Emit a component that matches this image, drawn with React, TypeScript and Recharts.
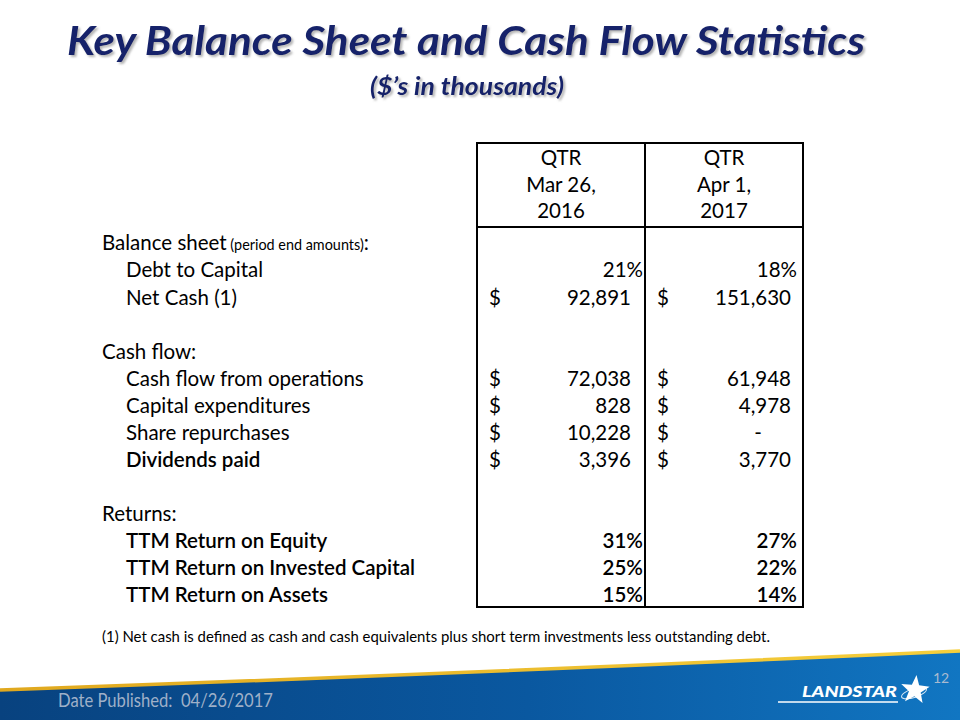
import React from 'react';
import { ComposedChart, Bar, XAxis, YAxis, LabelList, Customized } from 'recharts';

// ---------- data ----------
const rowLabels = [
  'Balance sheet',
  'Debt to Capital',
  'Net Cash (1)',
  '',
  'Cash flow:',
  'Cash flow from operations',
  'Capital expenditures',
  'Share repurchases',
  'Dividends paid',
  '',
  'Returns:',
  'TTM Return on Equity',
  'TTM Return on Invested Capital',
  'TTM Return on Assets',
];
const rowNotes = ['(period end amounts)', '', '', '', '', '', '', '', '', '', '', '', '', ''];
const rowKinds = ['section', 'item', 'item', 'blank', 'section', 'item', 'item', 'item', 'item', 'blank', 'section', 'item', 'item', 'item'];
const boldRows = [false, false, false, false, false, false, false, false, true, false, false, true, true, true];
const valueUnits = ['', '%', '$', '', '', '$', '$', '$', '$', '', '', '%', '%', '%'];
const values2016 = [null, 21, 92891, null, null, 72038, 828, 10228, 3396, null, null, 31, 25, 15];
const values2017 = [null, 18, 151630, null, null, 61948, 4978, 0, 3770, null, null, 27, 22, 14];
const periodHeaders2016 = ['QTR', 'Mar 26,', '2016'];
const periodHeaders2017 = ['QTR', 'Apr 1,', '2017'];

const titleText = 'Key Balance Sheet and Cash Flow Statistics';
const subtitleText = '($\u2019s in thousands)';
const footnoteText = '(1) Net cash is defined as cash and cash equivalents plus short term investments less outstanding debt.';
const dateText = 'Date Published:\u00a0\u00a004/26/2017';
const pageNumber = '12';
const logoText = 'LANDSTAR';

const rowKeys = rowLabels.map((_, i) => `row${i}`);
const tableData = rowLabels.map((label, i) => ({
  key: rowKeys[i],
  label,
  v2016: values2016[i],
  v2017: values2017[i],
}));

// ---------- styling / layout ----------
const FONT = "Lato, 'Open Sans', 'DejaVu Sans', sans-serif";
const TEXT_SIZE = 20.5;
const BOX = { left: 477, mid: 645, right: 803, top: 143, head: 227, bottom: 607 };
const COLS: Record<string, { dollar: number; pctEnd: number; usdEnd: number; dash: number }> = {
  v2016: { dollar: 489, pctEnd: 643, usdEnd: 631, dash: 610 },
  v2017: { dollar: 657, pctEnd: 797, usdEnd: 791, dash: 758 },
};
const TITLE_COLOR = '#15246a';

const fmtThousands = (v: number) => {
  const s = String(Math.round(Math.abs(v)));
  return s.replace(/\B(?=(\d{3})+(?!\d))/g, ',');
};

const RowLabelTick = (props: any) => {
  const { y, payload } = props;
  const i = rowKeys.indexOf(payload?.value);
  if (i < 0 || !rowLabels[i]) return null;
  const isSection = rowKinds[i] === 'section';
  return (
    <text
      x={isSection ? 102 : 126}
      y={y}
      dy="0.36em"
      fontFamily={FONT}
      fontSize={TEXT_SIZE}
      fontWeight={boldRows[i] ? 600 : 400}
      fill="#000"
      textAnchor="start"
    >
      {rowLabels[i]}
      {rowNotes[i] ? <tspan fontSize={14.4}> {rowNotes[i]}</tspan> : null}
      {rowNotes[i] ? <tspan>:</tspan> : null}
    </text>
  );
};

const makeCell = (col: 'v2016' | 'v2017') => (props: any) => {
  const vb = props.viewBox || {};
  const y = vb.y ?? props.y;
  const h = vb.height ?? props.height;
  let i = rowKeys.indexOf(props.value);
  if (i < 0 && typeof props.index === 'number') i = props.index;
  if (i < 0) return null;
  const v = col === 'v2016' ? values2016[i] : values2017[i];
  if (v === null || v === undefined) return null;
  const cy = y + h / 2;
  const c = COLS[col];
  const common = {
    fontFamily: FONT,
    fontSize: TEXT_SIZE,
    fill: '#000',
    dy: '0.36em',
  };
  if (valueUnits[i] === '%') {
    return (
      <text key={`${col}-${i}`} x={c.pctEnd} y={cy} textAnchor="end" {...common} fontWeight={boldRows[i] ? 600 : 400}>
        {`${v}%`}
      </text>
    );
  }
  return (
    <g key={`${col}-${i}`}>
      <text x={c.dollar} y={cy} textAnchor="start" {...common}>$</text>
      {v === 0 ? (
        <text x={c.dash} y={cy} textAnchor="middle" {...common}>-</text>
      ) : (
        <text x={c.usdEnd} y={cy} textAnchor="end" {...common}>
          {fmtThousands(v)}
        </text>
      )}
    </g>
  );
};

const starPoints = (cx: number, cy: number, ro: number, ri: number, rot: number) => {
  const pts: string[] = [];
  for (let k = 0; k < 10; k++) {
    const r = k % 2 === 0 ? ro : ri;
    const a = rot + (Math.PI / 5) * k - Math.PI / 2;
    pts.push(`${(cx + r * Math.cos(a)).toFixed(2)},${(cy + r * Math.sin(a)).toFixed(2)}`);
  }
  return pts.join(' ');
};

const Decor = () => (
  <g>
    <defs>
      <filter id="titleShadow" x="-5%" y="-20%" width="110%" height="150%">
        <feDropShadow dx="2" dy="2" stdDeviation="1.2" floodColor="#7a7a7a" floodOpacity="0.55" />
      </filter>
      <linearGradient id="footerBlue" x1="0" y1="0" x2="1" y2="0">
        <stop offset="0" stopColor="#08427f" />
        <stop offset="0.55" stopColor="#0a58a0" />
        <stop offset="1" stopColor="#1176c2" />
      </linearGradient>
      <linearGradient id="footerGold" x1="0" y1="0" x2="1" y2="0">
        <stop offset="0" stopColor="#e0a81e" />
        <stop offset="1" stopColor="#f6cf3c" />
      </linearGradient>
    </defs>

    {/* Title */}
    <text
      x={466}
      y={55}
      textAnchor="middle"
      fontFamily={FONT}
      fontSize={40}
      fontWeight={700}
      fontStyle="italic"
      fill={TITLE_COLOR}
      textLength={798}
      lengthAdjust="spacingAndGlyphs"
      filter="url(#titleShadow)"
    >
      {titleText}
    </text>
    <text
      x={467}
      y={95}
      textAnchor="middle"
      fontFamily={FONT}
      fontSize={25}
      fontWeight={700}
      fontStyle="italic"
      fill={TITLE_COLOR}
      textLength={194}
      lengthAdjust="spacingAndGlyphs"
      filter="url(#titleShadow)"
    >
      {subtitleText}
    </text>

    {/* Table frame */}
    <g stroke="#000" strokeWidth={2} fill="none">
      <rect x={BOX.left} y={BOX.top} width={BOX.right - BOX.left} height={BOX.bottom - BOX.top} />
      <line x1={BOX.mid} y1={BOX.top} x2={BOX.mid} y2={BOX.bottom} />
      <line x1={BOX.left} y1={BOX.head} x2={BOX.right} y2={BOX.head} />
    </g>

    {/* Column headers */}
    {periodHeaders2016.map((t, k) => (
      <text key={`h16-${k}`} x={(BOX.left + BOX.mid) / 2} y={165 + k * 26.5} textAnchor="middle" fontFamily={FONT} fontSize={TEXT_SIZE} fill="#000">
        {t}
      </text>
    ))}
    {periodHeaders2017.map((t, k) => (
      <text key={`h17-${k}`} x={(BOX.mid + BOX.right) / 2} y={165 + k * 26.5} textAnchor="middle" fontFamily={FONT} fontSize={TEXT_SIZE} fill="#000">
        {t}
      </text>
    ))}

    {/* Footnote */}
    <text x={102} y={642} fontFamily={FONT} fontSize={16} fill="#000" textLength={668} lengthAdjust="spacingAndGlyphs">
      {footnoteText}
    </text>

    {/* Footer band */}
    <path d="M0,690 Q480,673 960,651 L960,720 L0,720 Z" fill="url(#footerBlue)" />
    <path d="M0,690 Q480,673 960,651" fill="none" stroke="url(#footerGold)" strokeWidth={3.5} />
    <text x={58} y={707} fontFamily={FONT} fontSize={18.5} fill="#9fb0c8" textLength={215} lengthAdjust="spacingAndGlyphs">
      {dateText}
    </text>
    <text x={933} y={683} fontFamily={FONT} fontSize={14} fill="#a9bad0">
      {pageNumber}
    </text>

    {/* Logo */}
    <text x={802} y={697} fontFamily={FONT} fontSize={15} fontWeight={900} fontStyle="italic" fill="#ffffff" textLength={95} lengthAdjust="spacingAndGlyphs">
      {logoText}
    </text>
    <line x1={778} y1={702} x2={898} y2={702} stroke="#ffffff" strokeWidth={1.4} />
    <polygon points={starPoints(915, 690, 15, 6.2, 0.1)} fill="#ffffff" />
    <ellipse cx={914} cy={693} rx={13} ry={4.5} fill="none" stroke="#ffffff" strokeWidth={1} transform="rotate(-18 914 693)" opacity={0.85} />
  </g>
);

export default function App() {
  return (
    <div style={{ position: 'absolute', left: 0, top: 0, width: 960, height: 720, background: '#ffffff' }}>
      <ComposedChart
        width={960}
        height={720}
        data={tableData}
        layout="vertical"
        margin={{ top: 229.5, right: 0, bottom: 111.5, left: 0 }}
        barCategoryGap={0}
        style={{ background: '#ffffff' }}
      >
        <XAxis type="number" hide domain={[0, 250000]} />
        <YAxis
          type="category"
          dataKey="key"
          width={1}
          axisLine={false}
          tickLine={false}
          interval={0}
          tick={<RowLabelTick />}
        />
        <Bar dataKey="v2016" stackId="cells" fill="transparent" minPointSize={1} isAnimationActive={false}>
          <LabelList dataKey="key" content={makeCell('v2016')} />
        </Bar>
        <Bar dataKey="v2017" stackId="cells" fill="transparent" minPointSize={1} isAnimationActive={false}>
          <LabelList dataKey="key" content={makeCell('v2017')} />
        </Bar>
        <Customized component={Decor} />
      </ComposedChart>
    </div>
  );
}
